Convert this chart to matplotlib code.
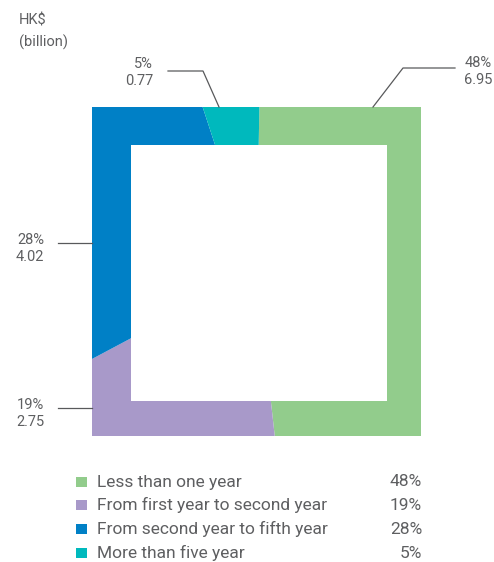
import matplotlib
matplotlib.use("Agg")
import matplotlib.pyplot as plt
from matplotlib.patches import Rectangle

categories = ["Less than one year", "From first year to second year",
              "From second year to fifth year", "More than five year"]
values = [6.95, 2.75, 4.02, 0.77]
percents = ["48%", "19%", "28%", "5%"]
colors = ["#92CC8C", "#A899C9", "#0080C6", "#00B9BD"]

W, H = 494, 562
fig = plt.figure(figsize=(W / 100, H / 100), dpi=100)
ax = fig.add_axes([0, 0, 1, 1])

plt.rcParams['font.family'] = ['Roboto', 'DejaVu Sans']
tc = "#5E5F61"
fs = 10.5
fw = "normal"

# square ring geometry (pixel coords, y downward)
x0, x1, y0, y1 = 92, 421, 107, 436
ix0, ix1, iy0, iy1 = 131, 387, 145, 401
cx, cy = (x0 + x1) / 2, (y0 + y1) / 2

wedges, _ = ax.pie(values, colors=colors, startangle=-89, counterclock=True,
                   radius=400, center=(cx, cy), frame=True,
                   wedgeprops=dict(linewidth=0))
ax.set_xlim(0, W)
ax.set_ylim(H, 0)
ax.set_aspect("auto")
ax.axis("off")

clip = ax.add_patch(Rectangle((x0, y0), x1 - x0, y1 - y0, facecolor="none",
                              edgecolor="none"))
for w in wedges:
    w.set_clip_on(True)
    w.set_clip_path(clip)
ax.add_patch(Rectangle((ix0, iy0), ix1 - ix0, iy1 - iy0, facecolor="white",
                       edgecolor="none", zorder=5))

lc = "#58595B"
lw = 0.9
# leader lines
ax.plot([373, 403, 455], [107, 68, 68], color=lc, lw=lw, zorder=6)
ax.plot([168, 203, 219], [71, 71, 107], color=lc, lw=lw, zorder=6)
ax.plot([58, 92], [243, 243], color=lc, lw=lw, zorder=6)
ax.plot([58, 92], [408, 408], color=lc, lw=lw, zorder=6)

# value labels
def vlabel(x, y, pct, val, ha):
    ax.text(x, y, pct, ha=ha, va="center", fontsize=fs, color=tc, fontweight=fw)
    ax.text(x, y + 17, f"{val:.2f}", ha=ha, va="center", fontsize=fs, color=tc,
            fontweight=fw)

vlabel(492, 63, percents[0], values[0], "right")
vlabel(153, 64, percents[3], values[3], "right")
vlabel(44, 240, percents[2], values[2], "right")
vlabel(44, 405, percents[1], values[1], "right")

ax.text(19, 21, "HK$", ha="left", va="center", fontsize=fs, color=tc, fontweight=fw)
ax.text(19, 42, "(billion)", ha="left", va="center", fontsize=fs, color=tc,
        fontweight=fw)

# legend
rows = [482, 505, 529, 553]
for cat, pct, col, ry in zip(categories, percents, colors, rows):
    ax.add_patch(Rectangle((76, ry - 5.3), 10.5, 10.5, facecolor=col, edgecolor="none"))
    ax.text(97, ry, cat, ha="left", va="center", fontsize=12.5, color=tc, fontweight=fw)
    ax.text(422, ry, pct, ha="right", va="center", fontsize=12.5, color=tc,
            fontweight=fw)

fig.savefig("out.png", dpi=100)
